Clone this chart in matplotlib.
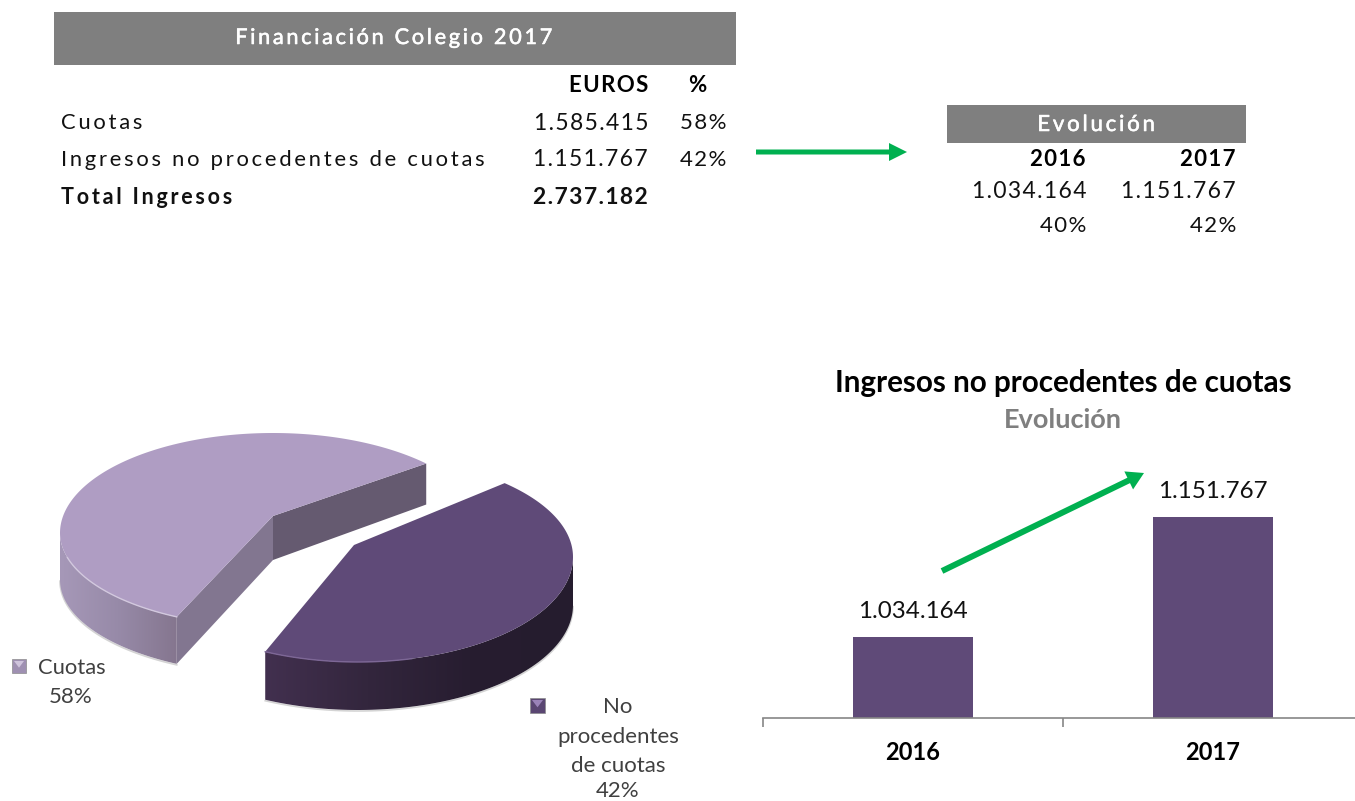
import numpy as np
import matplotlib
matplotlib.use('Agg')
import matplotlib.pyplot as plt
import matplotlib.patheffects as pe
from matplotlib.colors import to_rgb
from matplotlib.patches import FancyArrow, Polygon, Rectangle

plt.rcParams['font.family'] = ['Lato', 'DejaVu Sans']

# table data
row_labels = ['Cuotas', 'Ingresos no procedentes de cuotas', 'Total Ingresos']
row_euros = ['1.585.415', '1.151.767', '2.737.182']
row_pct = ['58%', '42%', '']
evo_years = ['2016', '2017']
evo_euros = ['1.034.164', '1.151.767']
evo_pct = ['40%', '42%']

# charts data
pie_labels = ['Cuotas', 'No\nprocedentes\nde cuotas']
pie_values = [1585415, 1151767]
pie_pct = ['58%', '42%']
bar_years = ['2016', '2017']
bar_values = [1034164, 1151767]
bar_text = ['1.034.164', '1.151.767']

GREY = '#7f7f7f'
GREEN = '#00b050'
LILAC = '#af9dc3'
PURPLE = '#5f4a78'
THICKER = [pe.withStroke(linewidth=0.4, foreground='white')]


def spaced(s, n=1):
    """Gill-style tracking of the table text, hair spaces between letters."""
    return ('\u200a' * n).join(s)


def arc(cx, cy, rx, ry_top, ry_bot, t):
    s = np.sin(np.radians(t))
    ry = np.where(s > 0, ry_top, ry_bot)
    return np.column_stack([cx + rx * np.cos(np.radians(t)), cy - ry * s])


def wall(ax, pts, depth, colors):
    """Side of a slice: horizontal gradient clipped to the rim band."""
    pts = pts[np.argsort(pts[:, 0])]
    outline = np.vstack([pts, pts[::-1] + [0, depth]])
    stops = np.array([to_rgb(c) for c in colors])
    xs = np.linspace(0, 1, 256)
    grad = np.stack([np.interp(xs, np.linspace(0, 1, len(stops)), stops[:, i]) for i in range(3)], axis=-1)
    im = ax.imshow(grad[None, :, :], aspect='auto', interpolation='bilinear', zorder=2,
                   extent=(pts[0, 0], pts[-1, 0], outline[:, 1].max(), outline[:, 1].min()))
    clip = Polygon(outline, transform=ax.transData, fc='none', lw=0)
    ax.add_patch(clip)
    im.set_clip_path(clip)
    ax.plot(pts[:, 0], pts[:, 1] + depth + 1, color='#d4d4d4', lw=1.2, zorder=1)


def legend_mark(ax, x, y, size, col, light):
    ax.add_patch(Rectangle((x, y), size, size, fc=col, ec='#8c8c8c', lw=0.5, zorder=3))
    ax.add_patch(Polygon([(x + 2, y + 2), (x + size - 2, y + 2), (x + size / 2, y + size * 0.62)], fc=light, lw=0, zorder=4))


fig = plt.figure(figsize=(13.55, 8.01), dpi=100)
ax = fig.add_axes([0, 0, 1, 1])

# top left table
ax.add_patch(Rectangle((54, 12), 682, 53, fc=GREY, lw=0))
ax.text(394, 38, spaced('Financiación Colegio 2017', 2), color='white', fontsize=15.6, ha='center', va='center', path_effects=THICKER)
ax.text(648, 86, spaced('EUROS'), fontsize=16, ha='right', va='center', fontweight='bold', color='black')
ax.text(697, 86, '%', fontsize=16, ha='center', va='center', fontweight='bold', color='black')
for y, lab, eur, pct in zip([123, 160, 198], row_labels, row_euros, row_pct):
    bold = lab.startswith('Total')
    ax.text(61, y, spaced(lab, 2), fontsize=15.5 if bold else 15.8, va='center', fontweight='bold' if bold else 'normal', color='#111111')
    ax.text(648, y, spaced(eur), fontsize=16.5, ha='right', va='center', fontweight='bold' if bold else 'normal', color='#111111')
    ax.text(726, y, spaced(pct), fontsize=16, ha='right', va='center', color='#111111')

ax.add_patch(FancyArrow(756, 152, 151, 0, width=5, head_width=18, head_length=18, length_includes_head=True, color=GREEN, lw=0))

# top right table
ax.add_patch(Rectangle((947, 105), 299, 38, fc=GREY, lw=0))
ax.text(1096, 125, spaced('Evolución', 2), color='white', fontsize=16, ha='center', va='center', path_effects=THICKER)
for x, yr, eur, pct in zip([1086, 1236], evo_years, evo_euros, evo_pct):
    ax.text(x, 159, spaced(yr), fontsize=16, ha='right', va='center', fontweight='bold', color='black')
    ax.text(x, 192, spaced(eur), fontsize=16.5, ha='right', va='center', color='#111111')
    ax.text(x, 226, spaced(pct), fontsize=16, ha='right', va='center', color='#111111')

# exploded pie, faked 3D
start = 44
sweep = 360 * pie_values[0] / sum(pie_values) * 0.955  # front slice looks squeezed in the perspective
end = start + sweep

cx, cy, rx, ry_t, ry_b = 273, 533, 213, 100, 94
vertex = np.array([273.0, 516.0])
t = np.linspace(start, end, 200)
rim = arc(cx, cy, rx, ry_t, ry_b, t)
for p, d0, d1, col in [(rim[0], 44, 41, '#655a70'), (rim[-1], 44, 47, '#827690')]:
    ax.add_patch(Polygon([vertex, p, p + [0, d1], vertex + [0, d0]], fc=col, lw=0, zorder=2))
wall(ax, rim[t >= 180], 47, ['#a698b8', '#978aa8', '#85768f'])
ax.add_patch(Polygon(np.vstack([vertex, rim]), fc=LILAC, lw=0, zorder=3))
ax.plot(*rim[t >= 195].T, color='#d2c8de', lw=1, zorder=4)

cx, cy, rx, ry_t, ry_b = 358, 557, 215, 101, 105
vertex = np.array([354.0, 545.0])
t = np.linspace(start + 3, end - 360 + 1.3, 200)
rim = arc(cx, cy, rx, ry_t, ry_b, t)
wall(ax, rim[t <= 0], 48, ['#42304f', '#33263d', '#271d30', '#251c2e'])
ax.add_patch(Polygon(np.vstack([vertex, rim]), fc=PURPLE, lw=0, zorder=3))
ax.plot(*rim[t < -75].T, color='#7d6796', lw=1, zorder=4)

legend_mark(ax, 12, 659, 14, '#9f90b2', '#cfc4dc')
ax.text(38, 668, pie_labels[0], fontsize=15.8, va='center', color='#404040')
ax.text(71, 697, pie_pct[0], fontsize=16, ha='center', va='center', color='#404040')
legend_mark(ax, 530, 698, 15, '#5a4672', '#9a83b8')
for y, s in zip([707, 737, 766, 791], pie_labels[1].split('\n') + [pie_pct[1]]):
    ax.text(618, y, s, fontsize=16, ha='center', va='center', color='#404040')

# bar chart titles
ax.text(1063, 383, 'Ingresos no procedentes de cuotas', fontsize=21.3, fontweight='bold', ha='center', va='center', color='black')
ax.text(1063, 420, 'Evolución', fontsize=19.5, fontweight='bold', ha='center', va='center', color=GREY)

ax.set_xlim(0, 1355)
ax.set_ylim(801, 0)
ax.axis('off')

# bars, y axis does not start at zero
bx = fig.add_axes([763 / 1355, (801 - 718) / 801, 600 / 1355, 268 / 801])
bx.patch.set_alpha(0)
bx.bar([0, 1], bar_values, width=0.4, color=PURPLE)
bx.set_xlim(-0.5, 1.5)
bx.set_ylim(955000, 1217000)
for side in ['top', 'left', 'right']:
    bx.spines[side].set_visible(False)
bx.spines['bottom'].set_color('#868686')
bx.spines['bottom'].set_linewidth(1.2)
bx.set_yticks([])
bx.set_xticks([-0.5, 0.5, 1.5])
bx.set_xticklabels([])
bx.tick_params(axis='x', length=6.5, width=1.2, color='#868686')
for i, yr in enumerate(bar_years):
    bx.annotate(yr, (i, 955000), xytext=(0, -25), textcoords='offset points', ha='center', va='center', fontsize=17, fontweight='bold', color='black')
    bx.annotate(bar_text[i], (i, bar_values[i]), xytext=(0, 18.5), textcoords='offset points', ha='center', va='center', fontsize=17.4, color='#111111')

ax.add_patch(FancyArrow(942, 571, 202, -98, width=6, head_width=20, head_length=17, length_includes_head=True, color=GREEN, lw=0, zorder=6))
ax.set_zorder(bx.get_zorder() + 1)

fig.savefig('out.png', dpi=100)
